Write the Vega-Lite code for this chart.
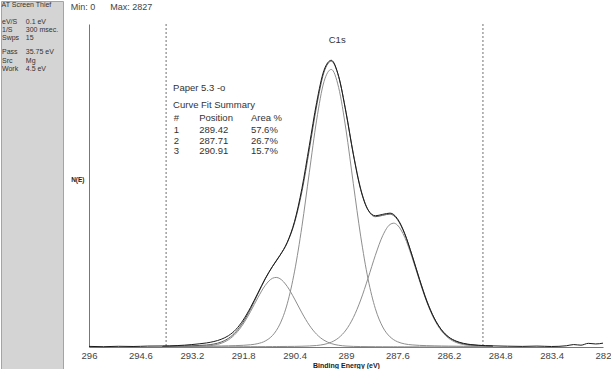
{
  "$schema": "https://vega.github.io/schema/vega-lite/v6.json",
  "padding": 0,
  "spacing": 26,
  "bounds": "flush",
  "center": true,
  "background": "white",
  "config": {"view": {"stroke": null}, "font": "Liberation Sans"},
  "datasets": {
    "fit": [
      {"e":294.0,"c1":4.5,"c2":1.2,"c3":2.3,"env":8.0},
      {"e":293.8,"c1":4.9,"c2":1.3,"c3":2.7,"env":8.9},
      {"e":293.6,"c1":5.4,"c2":1.4,"c3":3.1,"env":9.9},
      {"e":293.4,"c1":5.9,"c2":1.5,"c3":3.6,"env":11.0},
      {"e":293.2,"c1":6.5,"c2":1.6,"c3":4.5,"env":12.6},
      {"e":293.0,"c1":7.3,"c2":1.7,"c3":6.2,"env":15.2},
      {"e":292.8,"c1":8.1,"c2":1.8,"c3":9.9,"env":19.8},
      {"e":292.6,"c1":9.1,"c2":2.0,"c3":18.3,"env":29.4},
      {"e":292.4,"c1":10.3,"c2":2.1,"c3":36.3,"env":48.7},
      {"e":292.2,"c1":11.8,"c2":2.3,"c3":71.5,"env":85.6},
      {"e":292.0,"c1":13.8,"c2":2.5,"c3":132.8,"env":149.1},
      {"e":291.8,"c1":16.7,"c2":2.8,"c3":226.6,"env":246.1},
      {"e":291.6,"c1":22.1,"c2":3.1,"c3":349.7,"env":374.9},
      {"e":291.4,"c1":33.4,"c2":3.4,"c3":486.5,"env":523.3},
      {"e":291.2,"c1":59.0,"c2":3.8,"c3":607.5,"env":670.3},
      {"e":291.0,"c1":114.5,"c2":4.2,"c3":678.0,"env":796.7},
      {"e":290.9,"c1":161.2,"c2":4.5,"c3":686.0,"env":851.7},
      {"e":290.8,"c1":225.8,"c2":4.8,"c3":674.0,"env":904.6},
      {"e":290.6,"c1":426.4,"c2":5.4,"c3":596.9,"env":1028.7},
      {"e":290.4,"c1":748.3,"c2":6.3,"c3":472.9,"env":1227.5},
      {"e":290.2,"c1":1190,"c2":7.7,"c3":336.3,"env":1534},
      {"e":290.0,"c1":1719,"c2":10.1,"c3":215.6,"env":1944.7},
      {"e":289.8,"c1":2237,"c2":14.9,"c3":125.3,"env":2377.2},
      {"e":289.6,"c1":2616,"c2":25.5,"c3":67.0,"env":2708.5},
      {"e":289.4,"c1":2737,"c2":47.7,"c3":33.8,"env":2818.5},
      {"e":289.2,"c1":2558,"c2":90.9,"c3":17.1,"env":2666},
      {"e":289.0,"c1":2141,"c2":167.7,"c3":9.3,"env":2318},
      {"e":288.8,"c1":1610,"c2":290.1,"c3":5.9,"env":1906},
      {"e":288.6,"c1":1093,"c2":463.3,"c3":4.4,"env":1560.7},
      {"e":288.4,"c1":671.8,"c2":677.6,"c3":3.6,"env":1353},
      {"e":288.2,"c1":377.6,"c2":904.5,"c3":3.0,"env":1285.1},
      {"e":288.0,"c1":197.5,"c2":1098,"c3":2.6,"env":1298.1},
      {"e":287.8,"c1":99.9,"c2":1208.5,"c3":2.3,"env":1310.7},
      {"e":287.7,"c1":71.5,"c2":1220.9,"c3":2.2,"env":1294.6},
      {"e":287.6,"c1":52.1,"c2":1202.4,"c3":2.1,"env":1256.6},
      {"e":287.4,"c1":30.4,"c2":1081.8,"c3":1.8,"env":1114},
      {"e":287.2,"c1":20.7,"c2":882.7,"c3":1.7,"env":905.1},
      {"e":287.0,"c1":15.9,"c2":655.0,"c3":1.5,"env":672.4},
      {"e":286.8,"c1":13.3,"c2":443.8,"c3":1.4,"env":458.5},
      {"e":286.6,"c1":11.5,"c2":275.6,"c3":1.2,"env":288.3},
      {"e":286.4,"c1":10.0,"c2":158.1,"c3":1.1,"env":169.2},
      {"e":286.2,"c1":8.9,"c2":85.3,"c3":1.0,"env":95.2},
      {"e":286.0,"c1":7.9,"c2":44.7,"c3":1.0,"env":53.6},
      {"e":285.8,"c1":7.1,"c2":24.1,"c3":0.9,"env":32.1},
      {"e":285.6,"c1":6.4,"c2":14.3,"c3":0.8,"env":21.5},
      {"e":285.4,"c1":5.8,"c2":9.7,"c3":0.8,"env":16.3},
      {"e":285.2,"c1":5.3,"c2":7.5,"c3":0.7,"env":13.5},
      {"e":285.0,"c1":4.8,"c2":6.2,"c3":0.7,"env":11.7}
    ],
    "raw": [
      {"e":296.0,"n":6},{"e":295.6,"n":3},{"e":295.2,"n":7},{"e":294.8,"n":5},
      {"e":294.4,"n":9},{"e":294.0,"n":10},{"e":293.8,"n":11},{"e":293.6,"n":14},
      {"e":293.4,"n":18},{"e":293.2,"n":24},{"e":293.0,"n":31},{"e":292.8,"n":40},
      {"e":292.6,"n":54},{"e":292.4,"n":76},{"e":292.2,"n":112},{"e":292.0,"n":172},
      {"e":291.8,"n":266},{"e":291.6,"n":390},{"e":291.4,"n":532},{"e":291.2,"n":675},
      {"e":291.0,"n":795},{"e":290.8,"n":902},{"e":290.6,"n":1032},{"e":290.4,"n":1240},
      {"e":290.2,"n":1565},{"e":290.0,"n":1985},{"e":289.8,"n":2410},{"e":289.6,"n":2728},
      {"e":289.4,"n":2827},{"e":289.2,"n":2668},{"e":289.0,"n":2312},{"e":288.8,"n":1898},
      {"e":288.6,"n":1552},{"e":288.4,"n":1352},{"e":288.2,"n":1294},{"e":288.0,"n":1308},
      {"e":287.8,"n":1320},{"e":287.6,"n":1266},{"e":287.4,"n":1118},{"e":287.2,"n":902},
      {"e":287.0,"n":668},{"e":286.8,"n":452},{"e":286.6,"n":286},{"e":286.4,"n":170},
      {"e":286.2,"n":98},{"e":286.0,"n":58},{"e":285.8,"n":36},{"e":285.6,"n":24},
      {"e":285.4,"n":17},{"e":285.2,"n":13},{"e":285.0,"n":11},{"e":284.6,"n":8},
      {"e":284.2,"n":6},{"e":283.8,"n":9},{"e":283.4,"n":5},{"e":283.0,"n":12},
      {"e":282.8,"n":24},{"e":282.6,"n":18},{"e":282.4,"n":36},{"e":282.2,"n":30},
      {"e":282.0,"n":38}
    ],
    "cuts": [{"e":293.9},{"e":285.27}],
    "notes": [
      {"e":293.71,"n":2557,"t":"Paper 5.3 -o"},
      {"e":293.71,"n":2383,"t":"Curve Fit Summary"},
      {"e":293.69,"n":2261,"t":"#"},
      {"e":293.0,"n":2261,"t":"Position"},
      {"e":291.59,"n":2261,"t":"Area %"},
      {"e":293.69,"n":2140,"t":"1"},
      {"e":293.0,"n":2140,"t":"289.42"},
      {"e":291.59,"n":2140,"t":"57.6%"},
      {"e":293.69,"n":2028,"t":"2"},
      {"e":293.0,"n":2028,"t":"287.71"},
      {"e":291.59,"n":2028,"t":"26.7%"},
      {"e":293.69,"n":1930,"t":"3"},
      {"e":293.0,"n":1930,"t":"290.91"},
      {"e":291.59,"n":1930,"t":"15.7%"}
    ],
    "peak": [{"e":289.24,"n":3027,"t":"C1s"}],
    "side": [
      {"line":0,"col":0.02,"t":"AT Screen Thief"},
      {"line":2,"col":0.04,"t":"eV/S"},{"line":2,"col":1,"t":"0.1 eV"},
      {"line":3,"col":0.04,"t":"1/S"},{"line":3,"col":1,"t":"300 msec."},
      {"line":4,"col":0.04,"t":"Swps"},{"line":4,"col":1,"t":"15"},
      {"line":5.7,"col":0.04,"t":"Pass"},{"line":5.7,"col":1,"t":"35.75 eV"},
      {"line":6.8,"col":0.04,"t":"Src"},{"line":6.8,"col":1,"t":"Mg"},
      {"line":7.8,"col":0.04,"t":"Work"},{"line":7.8,"col":1,"t":"4.5 eV"}
    ]
  },
  "hconcat": [
    {
      "width": 62,
      "height": 369,
      "view": {"fill": "#d4d4d4", "stroke": "#a4a4a4"},
      "layer": [
        {
          "mark": {"type": "rect", "color": "#ffffff"},
          "encoding": {
            "x": {"datum": 0, "type": "quantitative", "scale": {"domain": [0, 2.5], "nice": false, "zero": false}, "axis": null},
            "x2": {"datum": 2.5},
            "y": {"datum": -0.55, "type": "quantitative", "scale": {"domain": [-0.524, 44.476], "reverse": true, "nice": false, "zero": false}, "axis": null},
            "y2": {"datum": 0.62}
          }
        },
        {
          "data": {"name": "side"},
          "mark": {"type": "text", "align": "left", "baseline": "middle", "fontSize": 7, "color": "#333333", "font": "Liberation Sans"},
          "encoding": {
            "x": {"field": "col", "type": "quantitative", "scale": {"domain": [0, 2.5], "nice": false, "zero": false}, "axis": null},
            "y": {"field": "line", "type": "quantitative", "scale": {"domain": [-0.524, 44.476], "reverse": true, "nice": false, "zero": false}, "axis": null},
            "text": {"field": "t"}
          }
        }
      ]
    },
    {
      "width": 514,
      "height": 323,
      "title": {"text": "Min: 0\u00a0\u00a0\u00a0\u00a0\u00a0\u00a0Max: 2827", "anchor": "start", "fontSize": 9, "fontWeight": "normal", "color": "#444444", "offset": 12, "font": "Liberation Sans"},
      "layer": [
        {
          "data": {"name": "cuts"},
          "mark": {"type": "rule", "color": "#707070", "strokeDash": [2, 2], "strokeWidth": 1},
          "encoding": {
            "x": {"field": "e", "type": "quantitative",
              "scale": {"domain": [282, 296], "reverse": true, "nice": false, "zero": false},
              "axis": {"title": "Binding Energy (eV)", "values": [296, 294.6, 293.2, 291.8, 290.4, 289, 287.6, 286.2, 284.8, 283.4, 282], "format": ".1~f", "grid": false, "ticks": false, "tickSize": 0, "labelPadding": 3, "labelFontSize": 9.5, "labelColor": "#444444", "labelFont": "Liberation Sans", "labelFlush": false, "labelOverlap": false, "domainColor": "#777777", "titleFontSize": 7, "titleFontWeight": "bold", "titleColor": "#222222", "titlePadding": 2, "titleFont": "Liberation Sans"}
            }
          }
        },
        {
          "data": {"name": "fit"},
          "transform": [{"fold": ["c1", "c2", "c3"], "as": ["comp", "n"]}],
          "mark": {"type": "line", "color": "#8e8e8e", "strokeWidth": 1, "interpolate": "monotone"},
          "encoding": {
            "x": {"field": "e", "type": "quantitative", "scale": {"domain": [282, 296], "reverse": true, "nice": false, "zero": false}},
            "y": {"field": "n", "type": "quantitative",
              "scale": {"domain": [0, 3185], "nice": false},
              "axis": {"title": "N(E)", "labels": false, "ticks": false, "grid": false, "domainColor": "#777777", "titleAngle": 0, "titleAlign": "right", "titleBaseline": "middle", "titleFontSize": 6.5, "titleFontWeight": "bold", "titleColor": "#222222", "titleX": -5, "titleY": 155, "titleFont": "Liberation Sans"}
            },
            "detail": {"field": "comp"}
          }
        },
        {
          "data": {"name": "fit"},
          "mark": {"type": "line", "color": "#5a5a5a", "strokeWidth": 1, "interpolate": "monotone"},
          "encoding": {
            "x": {"field": "e", "type": "quantitative", "scale": {"domain": [282, 296], "reverse": true, "nice": false, "zero": false}},
            "y": {"field": "env", "type": "quantitative", "scale": {"domain": [0, 3185], "nice": false}}
          }
        },
        {
          "data": {"name": "raw"},
          "mark": {"type": "line", "color": "#1a1a1a", "strokeWidth": 1, "interpolate": "monotone"},
          "encoding": {
            "x": {"field": "e", "type": "quantitative", "scale": {"domain": [282, 296], "reverse": true, "nice": false, "zero": false}},
            "y": {"field": "n", "type": "quantitative", "scale": {"domain": [0, 3185], "nice": false}}
          }
        },
        {
          "data": {"name": "notes"},
          "mark": {"type": "text", "align": "left", "baseline": "middle", "fontSize": 9.5, "color": "#333333", "font": "Liberation Sans"},
          "encoding": {
            "x": {"field": "e", "type": "quantitative", "scale": {"domain": [282, 296], "reverse": true, "nice": false, "zero": false}},
            "y": {"field": "n", "type": "quantitative", "scale": {"domain": [0, 3185], "nice": false}},
            "text": {"field": "t"}
          }
        },
        {
          "data": {"name": "peak"},
          "mark": {"type": "text", "align": "center", "baseline": "middle", "fontSize": 9.5, "color": "#333333", "font": "Liberation Sans"},
          "encoding": {
            "x": {"field": "e", "type": "quantitative", "scale": {"domain": [282, 296], "reverse": true, "nice": false, "zero": false}},
            "y": {"field": "n", "type": "quantitative", "scale": {"domain": [0, 3185], "nice": false}},
            "text": {"field": "t"}
          }
        }
      ]
    }
  ]
}
